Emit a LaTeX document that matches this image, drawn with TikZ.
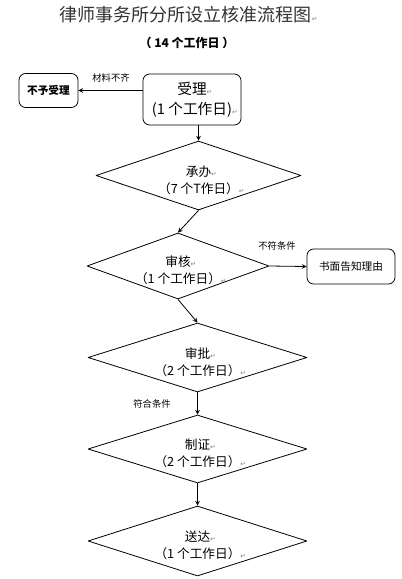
\documentclass[tikz,border=0pt]{standalone}
\usepackage{fontspec}
\setmainfont{Noto Sans CJK SC}
\newfontfamily\symf{DejaVu Sans}
\usetikzlibrary{shapes.geometric}
\newcommand\retmark{\rlap{\fontsize{5}{6}\symf\color{gray}↵}}
\newcommand\twolines[2]{\makebox[0pt]{\smash{\raisebox{-6.5pt}{\begin{tabular}{@{}c@{}}#1\\#2\end{tabular}}}}}
\tikzset{
  stepdia/.style={draw, shape=diamond, aspect=3, inner sep=0pt, font=\fontsize{9.5}{12.75}\selectfont},
  roundbox/.style={draw, rounded corners=5pt, inner sep=0pt, align=center},
  note/.style={font=\fontsize{7}{8}\selectfont}
}
\begin{document}
\begin{tikzpicture}[x=0.75pt, y=-0.75pt, >=stealth, line join=round, line width=0.6pt]
  \useasboundingbox (0,0) rectangle (401,579);
  % titles
  \node[text=black!80] (title) at (186,15) {\fontsize{13.5}{15}\selectfont 律师事务所分所设立核准流程图\retmark};
  \node (sub) at (187,43) {\fontsize{9}{11}\selectfont\bfseries （ 14 个工作日 ）};
  % boxes
  \node[roundbox, minimum width=98*0.75pt, minimum height=51*0.75pt, font=\fontsize{11}{15}\selectfont] (shouli) at (192,99.5) {受理\retmark\\(1 个工作日)\retmark};
  \node[roundbox, minimum width=59*0.75pt, minimum height=34*0.75pt, font=\fontsize{8}{9}\selectfont\bfseries] (buyu) at (48.5,90.5) {不予受理};
  \node[roundbox, minimum width=88*0.75pt, minimum height=35*0.75pt, font=\fontsize{8}{9}\selectfont] (gaozhi) at (351,266.5) {书面告知理由};
  % diamonds
  \node[stepdia, minimum width=205*0.75pt, minimum height=69*0.75pt] (chengban) at (198.5,175.5) {\twolines{承办\retmark}{（7 个T作日）\retmark}};
  \node[stepdia, minimum width=182*0.75pt, minimum height=66*0.75pt] (shenhe) at (178,266) {\twolines{审核\retmark}{（1 个工作日）\retmark}};
  \node[stepdia, minimum width=219*0.75pt, minimum height=69*0.75pt] (shenpi) at (197.5,357.5) {\twolines{审批\retmark}{（2 个工作日）\retmark}};
  \node[stepdia, minimum width=219*0.75pt, minimum height=68*0.75pt] (zhizheng) at (197.5,449) {\twolines{制证\retmark}{（2 个工作日）\retmark}};
  \node[stepdia, minimum width=219*0.75pt, minimum height=70*0.75pt] (songda) at (197.5,541) {\twolines{送达\retmark}{（1 个工作日）\retmark}};
  % connectors
  \draw[->] (buyu.east -| shouli.west) -- (buyu.east);
  \node[note] (qi) at (111,78) {材料不齐};
  \draw[->] (chengban.north |- shouli.south) -- (chengban.north);
  \draw[->] (chengban.south) -- (shenhe.north);
  \draw[->] (shenhe.east) -- (gaozhi.west);
  \node[note] (bufu) at (277,246) {不符条件};
  \draw[->] (shenhe.south) -- (shenpi.north);
  \draw[->] (shenpi.south) -- (zhizheng.north);
  \node[note] (fuhe) at (152,404) {符合条件};
  \draw[->] (zhizheng.south) -- (songda.north);
\end{tikzpicture}
\end{document}
